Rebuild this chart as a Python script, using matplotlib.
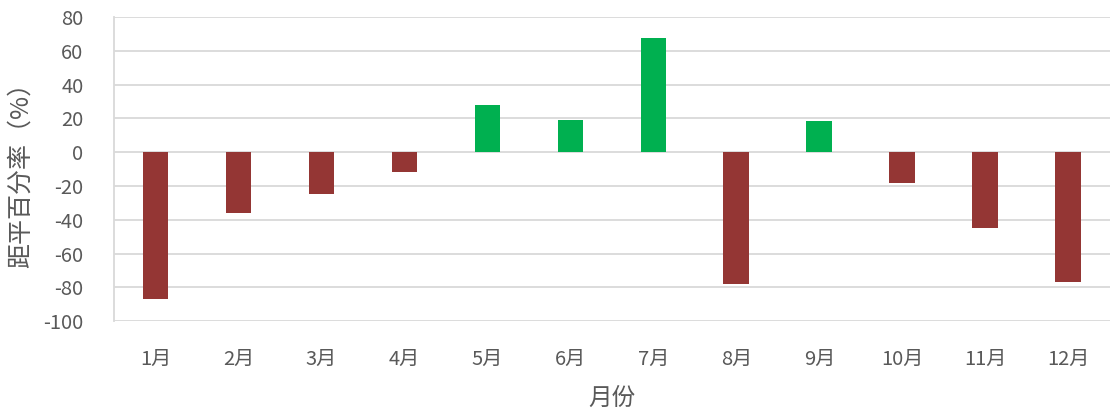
import numpy as np
import matplotlib.pyplot as plt

plt.rcParams['font.family'] = ['Noto Sans CJK SC', 'DejaVu Sans']
plt.rcParams['axes.unicode_minus'] = False

# 数据
months = ["1月", "2月", "3月", "4月", "5月", "6月",
          "7月", "8月", "9月", "10月", "11月", "12月"]
values = [-87, -36, -25, -12, 28, 19, 67.5, -78, 18.5, -18, -45, -77]

red = "#943634"
green = "#00B050"
txt = "#595959"
grid = "#D9D9D9"

colors = [green if v > 0 else red for v in values]
x = np.arange(len(months))

fig = plt.figure(figsize=(11.12, 4.09), dpi=100)
ax = fig.add_axes([0.1025, 0.215, 0.8955, 0.743])
ax.bar(x, values, width=0.31, color=colors, zorder=3)

ax.set_xlim(-0.5, len(months) - 0.5)
ax.set_ylim(-100, 80)
ax.set_yticks(np.arange(-100, 81, 20))
ax.set_xticks(x)
ax.set_xticklabels(months)
ax.yaxis.grid(True, color=grid, linewidth=1.3, zorder=0)
for s in ["top", "right", "bottom"]:
    ax.spines[s].set_visible(False)
ax.spines["left"].set_color(grid)
ax.spines["left"].set_linewidth(1.3)
ax.tick_params(axis="both", length=0, labelsize=14.5, colors=txt)
ax.tick_params(axis="x", pad=20)
ax.tick_params(axis="y", pad=22)
ax.set_xlabel("月份", fontsize=17, color=txt, labelpad=12)
ax.set_ylabel("距平百分率（%）", fontsize=18, color=txt, labelpad=7)

fig.savefig("out.png", dpi=100)
